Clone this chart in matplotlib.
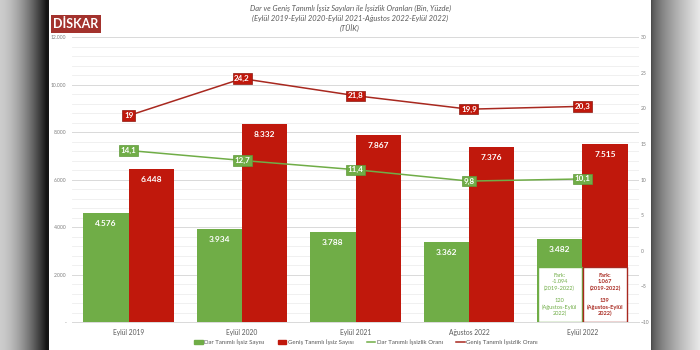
import numpy as np
import matplotlib
matplotlib.use("Agg")
import matplotlib.pyplot as plt
from matplotlib.patches import Patch
from matplotlib.lines import Line2D

plt.rcParams['font.family'] = ['Lato', 'DejaVu Sans']

# data
donemler = ["Eylül 2019", "Eylül 2020", "Eylül 2021", "Ağustos 2022", "Eylül 2022"]
dar_sayi = [4576, 3934, 3788, 3362, 3482]
genis_sayi = [6448, 8332, 7867, 7376, 7515]
dar_oran = [14.1, 12.7, 11.4, 9.8, 10.1]
genis_oran = [19.0, 24.2, 21.8, 19.9, 20.3]
sol_ticks = [0, 2000, 4000, 6000, 8000, 10000, 12000]
sol_etiket = ["-", "2.000", "4.000", "6.000", "8.000", "10.000", "12.000"]
sag_ticks = [-10, -5, 0, 5, 10, 15, 20, 25, 30]
dar_fark = "Fark:\n-1.094\n(2019-2022)\n\n120\n(Ağustos-Eylül\n2022)"
genis_fark = "Fark:\n1.067\n(2019-2022)\n\n139\n(Ağustos-Eylül\n2022)"

yesil = "#70ad47"
kirmizi = "#c0180c"
koyu_kirmizi = "#a8281f"

fig = plt.figure(figsize=(7, 3.5), dpi=100)

# screenshot shadow behind the white page
W, H = 700, 350
xs = np.arange(W)
g = np.ones(W)
left = xs < 49
g[left] = 0.80 - 0.72 * (xs[left] / 46.0) ** 1.6
g[left] = np.clip(g[left], 0.08, 1)
right = xs >= 651
g[right] = 0.30 + 0.62 * ((xs[right] - 651) / 49.0) ** 0.7
img = np.repeat(np.tile(g, (H, 1))[:, :, None], 3, axis=2)
bg = fig.add_axes([0, 0, 1, 1], zorder=-5)
bg.imshow(img, aspect="auto", interpolation="bilinear")
bg.axis("off")

ax = fig.add_axes([72 / 700, 0.08, 567 / 700, 0.8134])
ax.patch.set_alpha(0)
ax2 = ax.twinx()

x = np.arange(len(donemler))
w = 0.40

ax.set_ylim(0, 12000)
ax.set_xlim(-0.5, 4.5)
ax2.set_ylim(-10, 30)

# grid: major every 2000, minor every 400
ax.set_yticks(sol_ticks)
ax.set_yticklabels(sol_etiket)
ax.set_yticks(np.arange(0, 12001, 400), minor=True)
ax.grid(axis="y", which="major", color="#d9d9d9", lw=0.7)
ax.grid(axis="y", which="minor", color="#eeeeee", lw=0.6)
ax.set_axisbelow(True)
ax.tick_params(axis="y", which="both", length=0, labelsize=3.6, labelcolor="#7f7f7f", pad=4)

ax.bar(x - w / 2, dar_sayi, w, color=yesil, zorder=2)
ax.bar(x + w / 2, genis_sayi, w, color=kirmizi, zorder=2)

# difference boxes on the last period
ax.bar(x[-1] - w / 2, 2300, w * 0.97, color="white", edgecolor=yesil, lw=1, zorder=3)
ax.bar(x[-1] + w / 2, 2300, w * 0.97, color="white", edgecolor=koyu_kirmizi, lw=1, zorder=3)
ax.text(x[-1] - w / 2, 1150, dar_fark, ha="center", va="center", fontsize=4.1,
        color=yesil, linespacing=1.25, zorder=4)
ax.text(x[-1] + w / 2, 1150, genis_fark, ha="center", va="center", fontsize=4.1,
        color=koyu_kirmizi, fontweight="bold", linespacing=1.25, zorder=4)

for i in range(len(x)):
    ax.annotate(f"{dar_sayi[i]:,}".replace(",", "."), (x[i] - w / 2, dar_sayi[i]),
                xytext=(0, -5), textcoords="offset points", ha="center", va="top",
                fontsize=6, color="white", fontweight="bold", zorder=4)
    ax.annotate(f"{genis_sayi[i]:,}".replace(",", "."), (x[i] + w / 2, genis_sayi[i]),
                xytext=(0, -5), textcoords="offset points", ha="center", va="top",
                fontsize=6, color="white", fontweight="bold", zorder=4)

ax.set_xticks(x)
ax.set_xticklabels(donemler)
ax.tick_params(axis="x", length=0, labelsize=4.8, labelcolor="#595959", pad=5)
for s in ["top", "left", "right"]:
    ax.spines[s].set_visible(False)
ax.spines["bottom"].set_color("#d9d9d9")
ax.spines["bottom"].set_linewidth(0.7)

# rates
ax2.plot(x, dar_oran, color=yesil, lw=1.1, zorder=5)
ax2.plot(x, genis_oran, color=koyu_kirmizi, lw=1.1, zorder=5)
for i in range(len(x)):
    ax2.annotate(f"{dar_oran[i]:.1f}".replace(".", ","), (x[i], dar_oran[i]),
                 ha="center", va="center", fontsize=5.8, color="white", fontweight="bold",
                 bbox=dict(boxstyle="square,pad=0.2", fc=yesil, ec="#5e9a3a", lw=0.5), zorder=6)
    lab = f"{genis_oran[i]:.1f}".replace(".", ",")
    if lab.endswith(",0"):
        lab = lab[:-2]
    ax2.annotate(lab, (x[i], genis_oran[i]),
                 ha="center", va="center", fontsize=5.8, color="white", fontweight="bold",
                 bbox=dict(boxstyle="square,pad=0.2", fc=kirmizi, ec="#8c1a12", lw=0.5), zorder=6)
ax2.set_yticks(sag_ticks)
ax2.tick_params(axis="y", length=0, labelsize=3.6, labelcolor="#7f7f7f", pad=1.5)
for s in ax2.spines.values():
    s.set_visible(False)

# title
fig.text(0.5, 1 - 8 / 350, "Dar ve Geniş Tanımlı İşsiz Sayıları ile İşsizlik Oranları (Bin, Yüzde)",
         ha="center", va="center", fontsize=5.4, style="italic", color="#595959")
fig.text(0.5, 1 - 18 / 350, "(Eylül 2019-Eylül 2020-Eylül 2021-Ağustos 2022-Eylül 2022)",
         ha="center", va="center", fontsize=5.4, style="italic", color="#595959")
fig.text(0.5, 1 - 28 / 350, "(TÜİK)",
         ha="center", va="center", fontsize=5.4, style="italic", color="#595959")

# logo
fig.text(53 / 700, 1 - 24 / 350, "DİSKAR", ha="left", va="center", fontsize=9,
         fontweight="bold", color="white",
         bbox=dict(boxstyle="square,pad=0.2", fc="#a3322d", ec="none"))

# legend
handles = [Patch(color=yesil), Patch(color=kirmizi),
           Line2D([], [], color=yesil, lw=1.1), Line2D([], [], color=koyu_kirmizi, lw=1.1)]
labels = ["Dar Tanımlı İşsiz Sayısı", "Geniş Tanımlı İşsiz Sayısı",
          "Dar Tanımlı İşsizlik Oranı", "Geniş Tanımlı İşsizlik Oranı"]
fig.legend(handles, labels, loc="center", bbox_to_anchor=(366 / 700, 1 - 342 / 350), ncol=4,
           frameon=False, fontsize=4.4, labelcolor="#595959", handlelength=1.4,
           handleheight=0.6, handletextpad=0.2, columnspacing=2.2)

fig.savefig("out.png", dpi=100)
